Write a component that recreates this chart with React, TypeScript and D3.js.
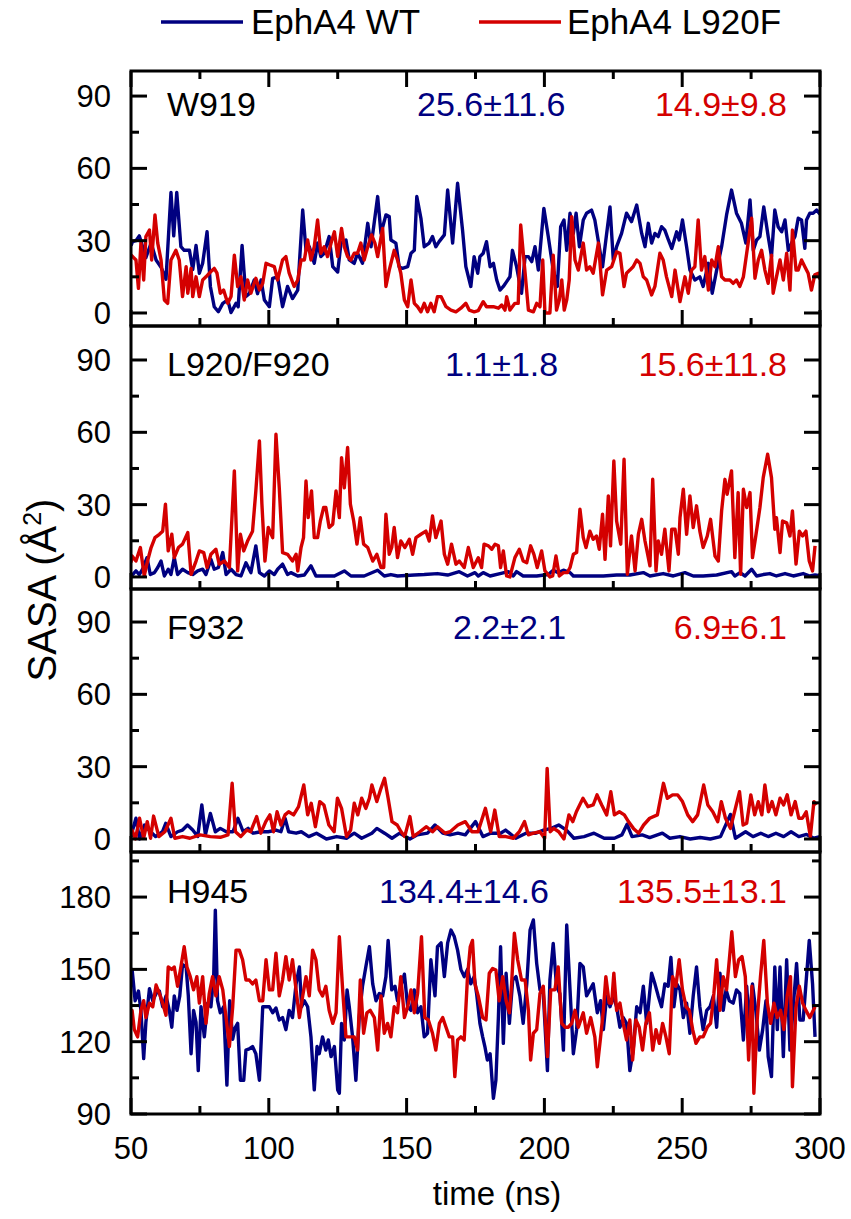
import React, { useEffect, useRef } from 'react';
import * as d3 from 'd3';

type Pt = [number, number];

// time (ns), SASA (Å²)
const w919WT: Pt[] = [[50,28],[50.6,29.6],[51.8,30],[53,32],[55.4,23],[57.3,29],[59.1,22],[60.9,19],[62.7,14],[64.5,50],[65.5,32],[66.6,50],[68.1,27.5],[69.3,26],[71.2,26],[72.4,18],[73.6,28],[74.8,16.5],[76,20.6],[77.6,33.7],[78.8,11],[80.2,2.6],[81.7,0.5],[83.3,4],[85.1,5.4],[86.3,0.2],[88.1,4],[88.9,2.6],[90.3,28],[91.7,6.8],[92.9,8],[94.7,13.7],[95.9,8],[97.2,13.7],[98.4,5.4],[100.2,2.6],[101.4,14.4],[103.2,15],[105,2.6],[106.8,11],[108.6,6],[110.5,9.5],[112.3,42.7],[113.5,26],[114.7,27.5],[116.5,20.6],[117.7,29],[118.9,23.4],[120.1,24.8],[121.9,31.7],[123.2,19.2],[125,17],[126.2,29],[128,30.3],[129.2,22],[131,20.6],[132.2,24.8],[134,20.6],[135.9,37.2],[137.1,27.5],[139.5,48.3],[140.7,33],[142.5,40.7],[143.7,40],[144.3,30.3],[146.1,29],[147.3,19.2],[148.5,18.5],[150.4,19.2],[151.6,24.8],[152.8,26],[153.7,48.3],[155.2,39.3],[156.4,27.5],[158.2,29],[159.4,31.7],[160.6,27.5],[161.8,29.6],[163.7,32.4],[164.9,51],[166.7,29],[168.5,53.8],[170.3,34.4],[171.5,19.2],[173.3,11],[174.5,23.4],[175.8,16.5],[176.6,23.4],[177.8,24.8],[179,29.6],[180.3,19.2],[181.5,20.6],[182.7,13.7],[183.9,9.5],[185.1,11],[186.3,13],[187.5,15],[188.4,26],[189.9,19.2],[191.7,8.2],[193,23.4],[194.2,23.4],[195.4,21.3],[196.6,27.5],[197.8,17.8],[199.8,43.4],[201.4,31.7],[203.2,17.8],[204.7,11],[205.9,35.8],[207.1,38.6],[208.1,26],[209.3,41.4],[210.5,33],[211.5,41.4],[212.7,27.5],[214.1,38.6],[215.3,41.4],[217.1,42.7],[218.3,38.6],[219.9,27.5],[221.1,19.2],[222.3,30.3],[223.8,44],[225,22],[226.2,27.5],[228,33],[229.8,41.4],[231.6,37.9],[233.5,44.8],[235.3,33],[236.5,27.5],[237.7,37.2],[238.9,29],[240.1,33],[241.3,31.7],[242.5,35.8],[243.7,34.4],[245,30.3],[246.2,26.8],[248,33.7],[248.9,30.3],[250.1,38.6],[251.6,27.5],[252.8,17.8],[254.6,13.7],[256.4,15],[257.6,11],[259.5,20.6],[260.9,8.2],[262.5,17.8],[264.3,27.5],[266.1,40.7],[267.9,51],[269.7,41.4],[271.5,37.2],[273.1,29],[274.6,46.9],[275.8,26],[277,30.3],[278.2,31.7],[279.6,44],[281.2,31.7],[282.4,23.4],[283.6,42.7],[284.8,35.8],[286.1,33.7],[287.3,38.6],[288.5,26],[289.7,29],[290.9,31.7],[292.1,39.3],[293.3,38.6],[294.5,26.8],[295.1,38.6],[296.3,41.4],[297.5,41.4],[298.8,42.7],[300,41]];

const w919Mut: Pt[] = [[50,24],[50.6,23.4],[51.8,22],[52.7,10.2],[53.6,29],[54.6,13.7],[55.4,31.7],[56.7,34.4],[57.5,22],[58.7,40.7],[59.7,29],[60.9,22],[62.1,5.4],[63.3,4],[64.5,22],[66.3,26],[67.5,22],[68.7,6.8],[70,19.2],[70.6,8.2],[71.8,18.5],[72.4,6.8],[73.6,15],[74.8,6.8],[76,13.7],[77.2,15],[79,17.2],[80.2,18.5],[81.2,16.5],[82.4,8.2],[83.6,9.5],[85.1,4],[86.3,6.8],[87.5,24],[88.7,11],[89.9,15],[91.1,5.4],[92.3,13.7],[93.5,8.2],[95.3,14.4],[96.6,9.5],[97.8,12.3],[99,20.6],[100.2,20],[102,19.2],[103.2,13.7],[105,22],[106.2,23.4],[107.4,16.5],[109.2,11],[110.5,13.7],[111.7,22],[112.9,22],[114.1,30.3],[115.3,22],[116.5,27.5],[117.7,38.6],[118.9,24.8],[120.1,27.5],[121.3,23.4],[122.6,29],[123.8,33.7],[125,23.4],[126.4,35.1],[127.4,27.5],[128.6,23.4],[129.8,22],[131,24.8],[132.2,24.8],[133.4,29],[134.6,22],[135.9,27.5],[137.3,32.4],[138.5,29],[139.5,23.4],[141.3,35.1],[142.5,11],[143.7,17.8],[145.5,26],[146.7,22],[147.9,16.5],[149.2,5.4],[150.4,2.6],[151.6,13.7],[152.8,4],[154,2.6],[155.2,0.5],[156.4,4],[157.6,0.5],[158.8,4],[160,0.5],[161.2,6.8],[162.5,6.8],[164.3,2.6],[166.1,1.2],[167.9,0.5],[169.7,2],[171.5,4],[172.7,1.2],[174.5,0.5],[176,1],[177.8,4.7],[179,2.6],[181.5,2.6],[183.3,2],[184.5,3.3],[185.7,1.2],[186.3,6.8],[187.5,1.2],[189.3,4],[190.5,4],[191.4,36.5],[193,16.5],[194.2,1.2],[196,0.5],[197.2,4],[198.4,2.6],[199.4,22],[200.2,0],[202,0],[203.2,24],[204.4,1.2],[205.4,5.4],[206.3,13.7],[207.2,1.2],[208.1,5.4],[209,13.7],[209.9,40],[211.1,22],[212.3,17.8],[214.1,29],[215.3,17.8],[216.5,19.2],[217.7,16.5],[219.6,29],[221.1,7.5],[222.6,17.8],[224.4,19.2],[226.2,25.4],[227.4,24.8],[228.9,11],[229.8,16.5],[231,17.8],[232.2,19.2],[233.5,22],[234.7,20.6],[235.9,15],[237.1,13.7],[238.9,7.5],[240.1,11],[241.9,24.8],[243.1,22],[244.3,15],[246.2,6.8],[247.4,17.8],[249.2,4.7],[251,15],[252.2,8.2],[253.4,17.8],[254.6,19.2],[255.8,38.6],[257,17.8],[258.2,23.4],[259.5,9.5],[260.7,22],[261.9,19.2],[263.1,27.5],[264.3,15],[265.5,13.7],[267.3,13.7],[268.5,12.3],[269.7,13.7],[270.9,11],[272.2,15],[273.4,24.8],[275.2,39.3],[276.4,14.4],[277.6,22],[278.8,26],[280,17.8],[281.2,12.3],[282.4,24],[283,8.2],[284.2,15],[285.5,22],[286.7,13.7],[287.9,24.8],[289.1,9.5],[290,34.4],[291.3,17.8],[292.1,17.8],[293.3,22],[294.5,19.2],[295.7,16.5],[296.9,9.5],[298.1,15.8],[299.4,16.5],[300,14]];

const l920WT: Pt[] = [[50,1],[50.6,1],[51.8,2.5],[53,1],[54.2,3.2],[55.8,8],[57,1],[58.5,1.8],[59.7,3.9],[60.9,6.6],[62.1,0.4],[63.5,3.2],[64.5,1],[65.7,8],[66.9,1],[68.7,3.2],[70.6,1.8],[72.4,1],[74.2,2.5],[76,3.2],[77.2,1],[79,7.3],[80.2,3.2],[81.7,3.9],[83.3,10.1],[84.5,1],[86.3,3.2],[88.1,1],[89.9,0.4],[91.7,5.9],[93.5,1.8],[95.3,12.9],[96.6,1.8],[98.4,0.4],[100.2,2.5],[102,1],[103.2,3.2],[105,5.3],[106.8,1],[108,1.8],[110.5,0.4],[112.9,0.8],[115.3,4.6],[117.1,0.4],[120.1,0.4],[123.8,0.4],[127.4,2.5],[129.8,0.4],[134.6,0.4],[139.5,2.8],[141.9,0.4],[144.3,1],[146.7,0.4],[152.8,0.8],[156.4,1],[161.2,1.4],[164.9,0.8],[169.1,2.2],[172.1,0.4],[174.8,1.8],[176,0.4],[177.8,1.8],[180.3,0.4],[183.9,1.4],[186.9,2.2],[188.7,0.4],[189.9,2.2],[192.3,0.4],[197.2,0.4],[201.4,1],[203.2,2.8],[205,1.8],[206.9,2.8],[209.3,1.8],[210.5,0.4],[215.3,0.4],[221.4,0.4],[226.2,0.8],[231,0.8],[235.9,1.8],[238.3,0.4],[243.1,1.4],[246.8,0.4],[251,1.8],[254,0.4],[257.6,0.4],[262.5,0.8],[267.9,2.2],[269.1,0.4],[271,1.8],[272.8,0.4],[275.2,3.2],[277,0.4],[279.4,1],[281.8,1.4],[284.2,0.4],[287.3,1.4],[290.3,0.4],[293.9,1.4],[296.3,0.4],[298.2,0.8],[300,0.5]];

const l920Mut: Pt[] = [[50,6],[50.4,8.7],[51.8,6.6],[53.4,12.2],[54.8,0.4],[56,6.6],[57.3,12.2],[58.7,16.3],[60.3,17.7],[61.5,19],[62.5,30.2],[63.5,10.8],[64.8,17.7],[65.7,8],[67.2,12.2],[68.7,13.6],[70.6,18.4],[71.8,1.1],[73.6,6.6],[74.8,10.8],[76.4,10.1],[77.6,3.9],[79,9.4],[80.8,11.5],[82,5.3],[83.9,6.6],[85.7,3.9],[87.5,44],[88.7,2.5],[89.7,17.7],[90.9,10.8],[92.3,14.9],[94.1,19],[95.3,35.7],[96.6,56.4],[97.5,30.2],[98.6,6.6],[99.8,20.5],[101.4,16.3],[102.6,59.2],[103.8,37],[105,10.1],[106.8,9.4],[108.6,6.6],[109.9,9.4],[110.5,2.5],[111.7,12.2],[112.6,16.3],[113.5,39.8],[114.3,24.6],[115.5,35.7],[116.5,16.3],[117.7,16.3],[118.7,23.2],[119.9,28.8],[120.7,28.8],[121.9,20.5],[123.2,21.9],[124.4,35.7],[125.6,24.6],[126.4,49.5],[127.4,37],[128.6,53.7],[129.6,30.2],[130.8,23.2],[132,13.6],[133.2,24.6],[134.4,13.6],[135.9,12.2],[137.7,6.6],[139.2,9.4],[140.7,3.9],[141.7,3.9],[142.5,26],[143.7,9.4],[144.6,12.2],[145.5,20.5],[146.7,8],[147.9,14.9],[149.4,12.2],[151,15.6],[152.2,9.4],[153.4,16.3],[155.2,17.7],[157,19],[158.2,14.9],[159.4,25.3],[160.6,16.3],[162.5,23.2],[163.7,9.4],[164.9,5.3],[166.3,13.6],[167.9,5.3],[169.1,6.6],[170.9,3.9],[172.4,12.2],[174.2,3.9],[176,8],[177.2,3.9],[178.1,13.6],[179.7,12.9],[180.9,11.5],[182.1,13.6],[183.3,12.9],[184.1,3.9],[185.1,10.8],[186.3,0.4],[187.5,0],[189.3,8],[190.9,11.5],[192.3,6.6],[193.6,5.9],[195,12.9],[196.2,9.4],[197.4,3.9],[199,10.8],[200.2,2.5],[202,0],[203,0.4],[204.2,8.7],[205.4,0.4],[206.9,1.8],[208.3,1.8],[209.3,3.9],[210.5,9.4],[211.7,10.1],[212.9,28.1],[214.1,16.3],[215.1,12.2],[216.5,19],[217.7,15.6],[218.9,17],[219.9,11.5],[221.1,26],[222,7.3],[223.2,33.6],[224,12.9],[225.2,48.1],[226.2,23.2],[227.7,13.6],[228.9,48.8],[230.1,1.1],[231.6,17],[232.9,2.5],[234.1,17.7],[235.3,23.9],[236.5,14.9],[238.3,4.6],[239.3,40.5],[240.5,2.5],[241.3,14.9],[242.5,9.4],[243.7,19.8],[245.2,2.5],[246.2,19.8],[247.4,19.8],[248.6,9.4],[249.2,24.6],[250.4,36.4],[251.6,17.7],[252.8,33.6],[254,20.5],[255.2,29.5],[256.4,19],[257.6,12.2],[259.1,17],[260.3,23.9],[261.9,8.7],[263.1,6.6],[264.3,27.4],[265.5,40.5],[266.3,34.3],[267.9,44],[269.1,8],[270.3,35],[271.2,1.1],[272.2,36.4],[273.4,28.8],[274.6,35],[275.5,8],[276.7,17],[278.2,28.8],[279.4,41.2],[281,50.9],[282.4,41.2],[283.6,19.8],[284.2,24.6],[285.5,10.1],[286.4,23.2],[287.9,22.5],[289.1,17],[290,27.4],[291.3,5.3],[292.5,19],[293.7,17],[294.9,19],[296.1,6.6],[297.3,2.5],[298.2,12.9]];

const f932WT: Pt[] = [[50,1],[50.4,3],[51.8,8.6],[53.1,0],[54.9,5.8],[57.1,3],[58.9,1],[61.4,3],[62.6,6.5],[64.5,1],[66.9,3],[68.7,3.7],[70.5,5.8],[72.4,3.7],[74.2,1],[75.7,14.1],[77,1.7],[78.8,10.6],[80.6,3],[82.4,4.4],[84.6,3],[87,3],[88.8,8.6],[90.7,3],[92.5,4.4],[94.3,2.4],[97.1,3],[99.8,3],[102.6,3.7],[104.4,3],[105.9,8.6],[107.2,3],[109.9,2.4],[111.8,3],[114.5,1],[117.3,2.4],[120.9,0],[124.6,1],[128.2,0.3],[131,2.4],[133.7,0.3],[137.4,2.4],[139.2,4.4],[142,2.4],[144.7,0.3],[147.5,2.4],[151.2,0],[153.9,1.7],[157.6,2.4],[160.3,5.8],[163.1,2.4],[165.8,1.7],[168.6,2.4],[171.3,1.7],[175,7.2],[177.7,1],[180.5,2.4],[184.1,2.4],[185.9,3.7],[189.6,0.3],[193.3,2.4],[196.9,2.4],[199.7,3.7],[202.5,4.4],[205.2,5.8],[208,3.7],[210.7,0.3],[214.4,1],[218,2.4],[221.7,0.3],[225.4,0.3],[228.1,1.7],[230,6.1],[231.8,1],[235.5,1.7],[238.2,0.6],[242.8,2.4],[245.5,0.3],[249.2,1],[252.9,0],[256.5,0.6],[260.2,0],[263.9,1],[267.5,10.2],[269.3,0.3],[273,3],[275.7,1],[278.5,2.4],[281.2,1],[284,2.4],[286.8,1],[289.5,3],[292.3,1],[295.1,1.9],[297.8,0.3],[300,1]];

const f932Mut: Pt[] = [[50,2],[50.4,3.7],[51.6,0],[53.1,8.6],[54.6,0.3],[55.9,7.2],[57.1,0.3],[58.2,9.5],[60.1,1],[62.3,3],[64.5,8.6],[65.9,0.3],[68.7,1],[71.4,0.3],[75.1,1.7],[78.8,1],[82.4,0.7],[85.2,1.7],[86.7,23.1],[87.9,3],[89.8,1],[92,3.7],[93.4,3],[95.6,9.3],[97.1,2.4],[98.9,7.2],[100.4,10],[101.7,3],[103,11.3],[104.4,5.8],[105.9,10],[107.2,11.3],[109,10],[110.8,13.4],[112.7,22.4],[114.1,10],[115.4,14.8],[116.9,5.1],[118.5,15.5],[120,14.1],[121.8,5.8],[123.7,3],[124.9,16.9],[126.4,12.7],[128.2,1],[129.7,3.7],[131,14.8],[132.3,10],[133.7,16.9],[135.2,12.7],[136.5,16.9],[137.4,22.4],[139.2,15.5],[140.7,21],[142,25.2],[143.3,16.9],[144.7,7.2],[146.6,5.8],[148,3],[149.3,1],[151.2,9.3],[152.4,1],[154.8,3],[157.2,5.1],[159.4,3],[161.2,5.1],[164,2.4],[165.8,3],[168.6,5.8],[171.3,7.2],[173.7,3],[175.9,3],[178.6,12.7],[180.5,3],[182,12],[183.6,1],[186,1],[188.7,0.3],[190.9,3],[192.8,7.2],[194.2,1.7],[196,2.4],[198.4,3],[200.1,0.3],[201,29.3],[202.1,3],[203.4,4.4],[205.2,3],[207.1,0],[208.9,10],[210.3,7.2],[211.6,11.3],[214,16.9],[215.8,13.4],[217.7,14.1],[219.1,18.3],[220.8,14.1],[222.6,10],[224.1,19.6],[225.4,10],[227.2,11.3],[229,10],[230.5,7.2],[232.3,4.4],[234.2,2.4],[236,5.8],[238.2,8.6],[241,10],[243.2,23.1],[244.6,16.9],[246.5,18.3],[248.3,18.3],[250.1,15.5],[252,10],[253.8,7.2],[255.6,10],[257.8,22.4],[259.3,14.1],[261.1,11.3],[262.9,7.2],[264.2,15.5],[265.7,8.6],[267.5,4.4],[270.8,19.6],[272.1,5.8],[273.4,6.5],[274.9,18.3],[276.3,10],[277.6,15.5],[278.9,10],[280,22.4],[281.3,11.3],[282.6,15.5],[284,10],[285.5,16.9],[286.8,14.1],[288.1,18.3],[289.5,10],[291,15.5],[292.3,8.6],[293.6,8.6],[295,11.3],[296.5,1],[297.8,15.5],[298.7,14.1]];

const h945WT: Pt[] = [[50,148],[50.4,150],[51.5,137],[52.7,141],[53.6,133],[54.6,113],[55.4,128],[56.7,142],[57.9,137],[59.1,140],[60.3,141],[61.5,134.5],[62.7,139],[63.9,133],[64.8,126],[65.7,139],[66.7,133],[67.7,139],[68.7,152],[70,151],[70.8,139],[71.8,115],[72.7,133],[73.6,128],[74.4,108],[75.4,134.5],[76.6,122],[77.8,136],[79,134.5],[80,147],[80.6,174.6],[81.4,137],[82.4,132],[83.6,134.5],[84.8,102],[85.8,137],[86.9,121],[87.7,125.5],[88.7,127.6],[89.7,104],[90.9,104],[91.7,116.5],[92.9,117],[94.1,118],[95.3,115],[96.6,104],[97.8,134.5],[99,134.5],[100.2,134.5],[101.4,132],[102.6,134],[103.8,129],[105,130],[106.2,125],[107.4,133],[108.6,130],[109.9,144],[111.1,151],[111.9,134.5],[112.9,137],[114.1,134.5],[115.3,122],[116.5,100],[117.5,118],[118.3,115],[119.5,122],[120.7,116.5],[121.6,120.7],[122.6,113.8],[123.8,118],[125,100],[125.6,98.6],[126.4,127.6],[127.4,120.7],[128.4,141.5],[129.2,134.5],[130.4,122],[131.6,104],[132.8,130],[134,143],[135.2,151],[136.5,159.4],[137.7,144],[138.9,137],[140.1,140],[141.3,139],[142.5,147],[143.3,162],[144.6,141.5],[145.8,143],[146.7,137],[147.9,143],[149.2,148],[150.4,134.5],[151.6,133],[152.8,141.5],[154,132],[155.2,134.5],[156.4,122],[157.6,123.5],[158.8,154],[160.3,139],[161.2,159.4],[162.5,161],[163.7,147],[164.9,161],[166.1,166.3],[167.3,163.6],[168.5,158],[169.7,150],[170.9,147],[172.1,150],[173.3,144],[174.5,147],[175.4,140],[176.6,127.6],[177.6,122],[178.4,118],[179.3,112.4],[180.3,115],[181.5,96.5],[182.4,104],[183.3,130],[184.1,159.4],[185.1,119.3],[186.1,148.4],[187.3,127.6],[188.5,145.6],[189.7,147],[191.1,139],[192.3,127.6],[193.6,144],[194.8,166.3],[196,170.5],[197.2,152.5],[198.4,141.5],[199.6,140],[201.1,108],[202,145.6],[203.2,160.8],[204.4,143],[205.6,140],[206.9,116.5],[208.1,168.4],[209.3,141.5],[210.5,115],[211.7,125],[212.9,152.5],[214.1,151],[215.3,139],[216.5,141.5],[217.7,144],[219.2,132],[220.4,137],[221.4,125],[222.6,139],[223.8,134.5],[225,139],[226.2,134.5],[227.4,126],[228.6,130],[229.8,127.6],[231,108],[232.2,116.5],[233.5,134.5],[234.7,132],[235.9,143],[237.1,127.6],[238.9,148.4],[240.1,144],[241.3,139],[242.5,134.5],[243.7,144],[244.9,143],[245.9,155],[247,134.5],[248,144],[249.2,141.5],[250.4,130],[251.6,136],[252.8,123.5],[254,139],[255.2,151],[256.4,134.5],[257.6,125],[258.9,133],[260.1,134.5],[261.3,139],[262.5,126],[263.7,148.4],[264.9,133],[265.9,141.5],[267.1,137],[268.5,136],[269.7,141.5],[270.9,140],[272.2,120.7],[273.4,143],[274.3,127.6],[275.5,144],[276.7,133],[278,116.5],[279.2,125],[280.4,137],[281.2,113.8],[282.4,105.5],[283.6,151],[284.5,125],[285.5,151],[286.7,113.8],[287.9,154],[289.1,116.5],[290.3,134.5],[291.5,152.5],[292.7,129],[293.9,129],[294.9,144],[296.1,162],[297.3,144],[298.2,122]];

const h945Mut: Pt[] = [[50,130],[50.4,133],[51.2,125],[52.4,122],[53.6,133],[54.6,137],[55.4,130],[56.7,136],[57.9,134.5],[59.1,143.5],[60.3,140],[61.5,136],[62.7,131],[63.5,151],[64.8,150],[65.7,151],[66.9,143],[68.1,151],[69.3,159.4],[70.3,151],[71.5,147],[72.7,141.5],[73.9,147],[74.8,136],[76,147],[77.2,127.6],[78.4,140],[79.6,147],[80.8,139],[82,147],[83.3,141.5],[84.5,130],[85.7,118],[86.9,134.5],[88.1,158],[89.3,158],[90.5,154],[91.7,145.6],[92.9,145.6],[94.1,144],[95.3,145.6],[96.6,137],[97.8,137],[99,154],[100.2,141.5],[101.4,141.5],[102.6,156.7],[103.8,139],[105,145.6],[106.2,155.3],[107.4,145.6],[108.6,154],[109.9,141.5],[111.1,130],[112.3,139],[113.5,147],[114.7,139],[115.9,158],[117.1,154],[118.3,141.5],[119.5,139],[120.7,143],[121.9,133],[123.2,127.6],[124.4,132],[125.6,163.6],[126.8,141.5],[128,122],[129.8,122],[131,122],[132.2,116.5],[133.2,145.6],[134.4,123.5],[135.6,132],[136.8,133],[138.3,130],[139.5,116.5],[140.7,139],[141.9,123.5],[143.1,127.6],[144.3,122],[145.5,134.5],[146.7,132],[147.9,147],[149.2,130],[150.4,134.5],[151.6,141.5],[152.8,132],[154,140],[155.4,163.6],[156.6,130],[157.9,129],[159.4,123.5],[160.6,116.5],[161.9,127.6],[163.1,130],[164.3,126],[165.5,122],[166.7,122],[167.5,105.5],[168.5,120.7],[169.7,122],[170.9,120.7],[172.1,147],[173.1,159.4],[173.9,162],[174.8,144],[176,139],[177.6,130],[178.8,129],[180,148.4],[181.2,150.4],[182.4,149.7],[183.6,137],[184.9,147],[186.1,137],[187.3,132],[188.1,144],[189.1,165],[190.3,154],[191.7,145.6],[193,145.6],[194.2,133],[195,112.4],[196,123.5],[197.2,125],[198.4,140],[199.6,143],[201.1,113.8],[202.3,141.5],[203.8,141.5],[205,151],[206.3,127.6],[207.5,126],[208.7,126],[209.9,127.6],[211.1,133],[212.3,126],[214.1,132],[215.3,123.5],[216.8,130],[218.3,122],[219.2,109.6],[220.4,122],[221.4,133],[222.3,147],[223.5,136],[224.4,136],[225.2,148.4],[226.2,133],[227.4,136],[228.6,127.6],[229.8,120.7],[231,129],[232,112.4],[233.2,129],[234.4,126],[235.6,116.5],[236.8,127.6],[238.1,132],[239.3,116.5],[240.5,125],[241.7,119.3],[242.9,127.6],[244.1,122],[245.3,115],[246.5,147],[247.7,143],[248.9,154],[250.1,141.5],[251.4,134.5],[252.6,133],[253.8,125],[255,119.3],[256.4,122],[257.6,122],[259.1,126],[260.3,127.6],[261.5,140],[262.5,154],[263.7,133],[264.9,147],[266.1,141.5],[267.1,154],[268,165.6],[269.3,147],[270.5,154],[271.7,155.3],[272.9,147],[274.1,112.4],[275.3,143],[276,98.6],[277.2,129],[278.4,147],[279.6,162],[280.9,136],[282.1,127.6],[283.3,136],[284.5,130],[285.7,133],[286.9,125],[288.1,139],[289.3,147],[290,101.3],[291.3,134.5],[292.5,143],[293.7,136],[294.9,133],[296.3,130],[298.2,134.5]];

const residues = ['W919', 'L920/F920', 'F932', 'H945'];
const wtStats = ['25.6±11.6', '1.1±1.8', '2.2±2.1', '134.4±14.6'];
const mutStats = ['14.9±9.8', '15.6±11.8', '6.9±6.1', '135.5±13.1'];
const seriesNames = ['EphA4 WT', 'EphA4 L920F'];
const xMajor = [50, 100, 150, 200, 250, 300];
const xMinor = [75, 125, 175, 225, 275];
const yMajorLow = [0, 30, 60, 90];
const yMinorLow = [15, 45, 75];
const yMajorHigh = [90, 120, 150, 180];
const yMinorHigh = [105, 135, 165, 195];

const BLUE = '#000080';
const RED = '#d40000';
const FONT = '"Liberation Sans", Arial, sans-serif';

const W = 851;
const H = 1219;
const LEFT = 131;
const RIGHT = 820;

const panels = [
  { wt: w919WT, mut: w919Mut, top: 71, bottom: 326, domain: [-5.4, 100.4], major: yMajorLow, minor: yMinorLow, labelY: 116, wtX: 417 },
  { wt: l920WT, mut: l920Mut, top: 326, bottom: 589, domain: [-5, 104.1], major: yMajorLow, minor: yMinorLow, labelY: 376, wtX: 445 },
  { wt: f932WT, mut: f932Mut, top: 589, bottom: 852, domain: [-5.4, 103.7], major: yMajorLow, minor: yMinorLow, labelY: 639, wtX: 453 },
  { wt: h945WT, mut: h945Mut, top: 852, bottom: 1114, domain: [90, 198.7], major: yMajorHigh, minor: yMinorHigh, labelY: 903, wtX: 379 },
];

const App = () => {
  const ref = useRef<SVGSVGElement>(null);

  useEffect(() => {
    const svg = d3.select(ref.current);
    svg.selectAll('*').remove();

    const x = d3.scaleLinear().domain([50, 300]).range([LEFT, RIGHT]);
    const MAJ = 16;
    const MIN = 8;

    panels.forEach((p, i) => {
      const y = d3.scaleLinear().domain(p.domain).range([p.bottom, p.top]);
      const clipId = `clip${i}`;
      svg.append('clipPath').attr('id', clipId)
        .append('rect')
        .attr('x', LEFT).attr('y', p.top)
        .attr('width', RIGHT - LEFT).attr('height', p.bottom - p.top);

      const line = d3.line<Pt>().x(d => x(d[0])).y(d => y(d[1]));
      const g = svg.append('g').attr('clip-path', `url(#${clipId})`);
      g.append('path').datum(p.wt).attr('d', line)
        .attr('fill', 'none').attr('stroke', BLUE).attr('stroke-width', 3.4).attr('stroke-linejoin', 'round');
      g.append('path').datum(p.mut).attr('d', line)
        .attr('fill', 'none').attr('stroke', RED).attr('stroke-width', 3.4).attr('stroke-linejoin', 'round');

      const ax = svg.append('g').attr('stroke', '#000').attr('stroke-width', 3);
      // bottom ticks pointing up
      xMajor.forEach(t => ax.append('line').attr('x1', x(t)).attr('x2', x(t)).attr('y1', p.bottom).attr('y2', p.bottom - MAJ));
      xMinor.forEach(t => ax.append('line').attr('x1', x(t)).attr('x2', x(t)).attr('y1', p.bottom).attr('y2', p.bottom - MIN));
      if (i === 0) {
        xMajor.forEach(t => ax.append('line').attr('x1', x(t)).attr('x2', x(t)).attr('y1', p.top).attr('y2', p.top + MAJ));
        xMinor.forEach(t => ax.append('line').attr('x1', x(t)).attr('x2', x(t)).attr('y1', p.top).attr('y2', p.top + MIN));
      }
      p.major.forEach(v => {
        ax.append('line').attr('x1', LEFT).attr('x2', LEFT + MAJ).attr('y1', y(v)).attr('y2', y(v));
        ax.append('line').attr('x1', RIGHT).attr('x2', RIGHT - MAJ).attr('y1', y(v)).attr('y2', y(v));
      });
      p.minor.filter(v => v < p.domain[1]).forEach(v => {
        ax.append('line').attr('x1', LEFT).attr('x2', LEFT + MIN).attr('y1', y(v)).attr('y2', y(v));
        ax.append('line').attr('x1', RIGHT).attr('x2', RIGHT - MIN).attr('y1', y(v)).attr('y2', y(v));
      });
      ax.append('rect').attr('x', LEFT).attr('y', p.top)
        .attr('width', RIGHT - LEFT).attr('height', p.bottom - p.top).attr('fill', 'none');

      svg.append('g').selectAll('text').data(p.major).enter().append('text')
        .attr('x', 111).attr('y', v => y(v) + 11)
        .attr('text-anchor', 'end')
        .attr('font-family', FONT).attr('font-size', 31)
        .text(v => v);

      svg.append('text').attr('x', 167).attr('y', p.labelY)
        .attr('font-family', FONT).attr('font-size', 34).attr('fill', '#000')
        .text(residues[i]);
      svg.append('text').attr('x', p.wtX).attr('y', p.labelY)
        .attr('font-family', FONT).attr('font-size', 34).attr('fill', BLUE)
        .text(wtStats[i]);
      svg.append('text').attr('x', 787).attr('y', p.labelY).attr('text-anchor', 'end')
        .attr('font-family', FONT).attr('font-size', 34).attr('fill', RED)
        .text(mutStats[i]);
    });

    // x tick labels
    svg.append('g').selectAll('text').data(xMajor).enter().append('text')
      .attr('x', t => x(t)).attr('y', 1159)
      .attr('text-anchor', 'middle')
      .attr('font-family', FONT).attr('font-size', 31)
      .text(t => t);

    svg.append('text').attr('x', 497).attr('y', 1205)
      .attr('text-anchor', 'middle')
      .attr('font-family', FONT).attr('font-size', 33)
      .text('time (ns)');

    const yt = svg.append('text')
      .attr('transform', 'translate(56,590) rotate(-90)')
      .attr('text-anchor', 'middle')
      .attr('font-family', FONT).attr('font-size', 40);
    yt.append('tspan').text('SASA (Å');
    yt.append('tspan').attr('font-size', 25).attr('dy', -15).text('2');
    yt.append('tspan').attr('dy', 15).text(')');

    // legend
    const legend = [
      { x1: 161, x2: 243, tx: 251, color: BLUE },
      { x1: 479, x2: 561, tx: 567, color: RED },
    ];
    legend.forEach((l, i) => {
      svg.append('line').attr('x1', l.x1).attr('x2', l.x2).attr('y1', 22).attr('y2', 22)
        .attr('stroke', l.color).attr('stroke-width', 3.5);
      svg.append('text').attr('x', l.tx).attr('y', 34)
        .attr('font-family', FONT).attr('font-size', 35)
        .text(seriesNames[i]);
    });
  }, []);

  return (
    <svg ref={ref} width={W} height={H}
      style={{ position: 'absolute', left: 0, top: 0, background: '#fff' }} />
  );
};

export default App;
